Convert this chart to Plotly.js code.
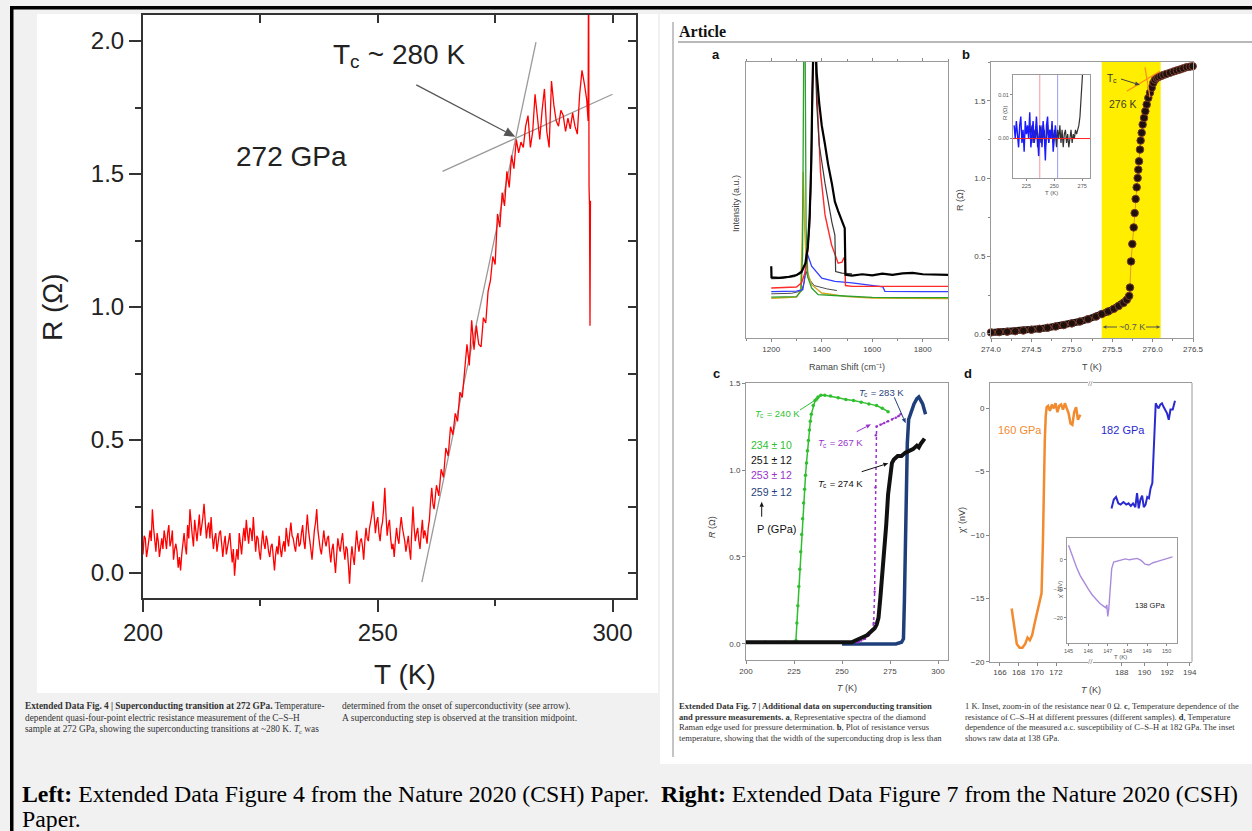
<!DOCTYPE html>
<html><head><meta charset="utf-8">
<script src="https://cdn.plot.ly/plotly-3.0.1.min.js"></script>
<style>html,body{margin:0;padding:0;background:#f1f1f1;}#chart{width:1252px;height:831px;}</style>
</head><body><div id="chart"></div>
<script>
// ---------- Left figure: Extended Data Fig. 4 ----------
const mainT = [
200,200.25,200.5,200.75,201,201.25,201.5,201.75,202,202.25,202.5,202.75,203,203.25,203.5,203.75,204,204.25,204.5,204.75,
205,205.25,205.5,205.75,206,206.25,206.5,206.75,207,207.25,207.5,207.75,208,208.25,208.5,208.75,209,209.25,209.5,209.75,
210,210.25,210.5,210.75,211,211.25,211.5,211.75,212,212.25,212.5,212.75,213,213.25,213.5,213.75,214,214.25,214.5,214.75,
215,215.25,215.5,215.75,216,216.25,216.5,216.75,217,217.25,217.5,217.75,218,218.25,218.5,218.75,219,219.25,219.5,219.75,
220,220.25,220.5,220.75,221,221.25,221.5,221.75,222,222.25,222.5,222.75,223,223.25,223.5,223.75,224,224.25,224.5,224.75,
225,225.25,225.5,225.75,226,226.25,226.5,226.75,227,227.25,227.5,227.75,228,228.25,228.5,228.75,229,229.25,229.5,229.75,
230,230.25,230.5,230.75,231,231.25,231.5,231.75,232,232.25,232.5,232.75,233,233.25,233.5,233.75,234,234.25,234.5,234.75,
235,235.25,235.5,235.75,236,236.25,236.5,236.75,237,237.25,237.5,237.75,238,238.25,238.5,238.75,239,239.25,239.5,239.75,
240,240.25,240.5,240.75,241,241.25,241.5,241.75,242,242.25,242.5,242.75,243,243.25,243.5,243.75,244,244.25,244.5,244.75,
245,245.25,245.5,245.75,246,246.25,246.5,246.75,247,247.25,247.5,247.75,248,248.25,248.5,248.75,249,249.25,249.5,249.75,
250,250.25,250.5,250.75,251,251.25,251.5,251.75,252,252.25,252.5,252.75,253,253.25,253.5,253.75,254,254.25,254.5,254.75,
255,255.25,255.5,255.75,256,256.25,256.5,256.75,257,257.25,257.5,257.75,258,258.25,258.5,258.75,259,259.25,259.5,259.75,
260,260.25,260.5,260.75,261,261.25,261.5,261.75,
262,262.5,263,263.5,264,264.5,265,265.5,266,266.5,267,267.5,268,268.5,269,269.5,
270,270.5,271,271.5,272,272.5,273,273.5,274,274.5,275,275.5,276,276.5,277,277.5,278,278.5,279,279.5,
280,280.5,281,281.5,282,282.5,283,283.5,284,284.5,285,285.5,286,286.5,287,287.5,288,288.5,289,289.5,
290,290.5,291,291.5,292,292.5,293,293.5,294,294.5,294.8,294.9,295,295.1,295.2,295.3];
const mainR = [
0.07,0.14,0.13,0.06,0.09,0.14,0.16,0.12,0.24,0.17,0.11,0.08,0.15,0.12,0.06,0.10,0.13,0.09,0.16,0.13,
0.09,0.15,0.18,0.10,0.12,0.16,0.05,0.09,0.11,0.08,0.02,0.06,0.01,0.07,0.12,0.15,0.10,0.07,0.18,0.13,
0.24,0.18,0.14,0.10,0.20,0.16,0.12,0.17,0.22,0.14,0.17,0.21,0.26,0.18,0.13,0.17,0.19,0.13,0.21,0.14,
0.09,0.13,0.15,0.08,0.11,0.15,0.16,0.10,0.06,0.11,0.14,0.07,0.10,0.13,0.15,0.09,0.04,0.09,-0.01,0.05,
0.09,0.05,0.15,0.11,0.07,0.13,0.17,0.12,0.20,0.15,0.11,0.17,0.16,0.12,0.21,0.14,0.08,0.14,0.13,0.08,
0.05,0.11,0.16,0.11,0.09,0.14,0.12,0.08,0.06,0.10,0.11,0.06,0.01,0.07,0.10,0.07,0.14,0.09,0.06,0.10,
0.12,0.08,0.17,0.13,0.10,0.15,0.19,0.14,0.13,0.10,0.08,0.13,0.15,0.10,0.11,0.15,0.18,0.12,0.09,0.16,
0.22,0.16,0.13,0.09,0.05,0.11,0.16,0.19,0.24,0.16,0.12,0.09,0.07,0.12,0.16,0.12,0.10,0.13,0.14,0.08,
0.04,0.09,0.11,0.05,0.00,0.07,0.13,0.10,0.08,0.12,0.15,0.09,0.05,0.10,0.09,0.03,-0.04,0.05,0.10,0.06,
0.03,0.10,0.16,0.11,0.08,0.12,0.13,0.10,0.05,0.12,0.17,0.13,0.12,0.17,0.20,0.22,0.27,0.19,0.15,0.19,
0.21,0.15,0.12,0.17,0.19,0.24,0.32,0.22,0.14,0.18,0.20,0.13,0.09,0.11,0.06,0.12,0.17,0.13,0.11,0.17,
0.21,0.17,0.15,0.12,0.08,0.12,0.14,0.09,0.05,0.16,0.25,0.17,0.12,0.15,0.17,0.12,0.09,0.15,0.20,0.13,
0.16,0.14,0.11,0.17,0.20,0.27,0.32,0.26,
0.24,0.33,0.29,0.39,0.36,0.47,0.44,0.55,0.52,0.60,0.57,0.68,0.66,0.76,0.86,0.78,
0.95,0.84,0.93,0.86,0.85,0.96,0.94,1.06,1.10,1.19,1.16,1.35,1.30,1.43,1.38,1.51,1.45,1.57,1.52,1.63,
1.58,1.62,1.60,1.68,1.72,1.60,1.66,1.80,1.70,1.63,1.74,1.82,1.66,1.60,1.85,1.76,1.70,1.68,1.74,1.72,
1.66,1.71,1.67,1.73,1.68,1.65,1.80,1.89,1.84,1.78,1.70,2.40,1.45,1.38,0.93,1.40];
const steepT = [259.4, 283.7], steepR = [-0.034, 1.996];
const flatT = [263.8, 300.0], flatR = [1.51, 1.80];
const mainXTicks = [200, 250, 300], mainXMinor = [225, 275];
const mainYTicks = [0, 0.5, 1.0, 1.5, 2.0], mainYMinor = [0.25, 0.75, 1.25, 1.75];
const mainTopTicks = [225, 250, 275, 300];
const mainRightTicks = [0, 0.25, 0.5, 0.75, 1.0, 1.25, 1.5, 1.75, 2.0];
const mainArrowT = [258.2, 279.3], mainArrowR = [1.835, 1.64];

// ---------- Panel a: Raman spectra ----------
const aBlackX = [1200,1201,1230,1270,1300,1320,1335,1345,1352,1358,1363,1368,1374,1380,1390,1400,1413,1425,1440,1452,1465,1478,1491,1494,1520,1560,1600,1640,1680,1720,1760,1800,1840,1880,1900];
const aBlackY = [26,22,21.8,22.2,22.8,24,27,33,44,62,90,110,110,96,85,77,70,63,56,49.4,46,43,39.8,22.9,22.6,23.1,22.7,23.3,22.9,23.4,23.6,23.1,23,22.8,22.9];
const aDarkX = [1200,1240,1290,1320,1340,1352,1360,1366,1372,1380,1390,1413,1440,1452,1455,1480,1520];
const aDarkY = [21.5,21.6,22.2,23.5,28,40,65,110,110,85,70,56,42,37.3,24.1,23.5,23.2];
const aRedX = [1200,1260,1300,1320,1335,1345,1355,1362,1367,1374,1380,1395,1413,1439,1452,1465,1480,1488,1491,1494,1520,1600,1700,1800,1900];
const aRedY = [18.1,18.2,18.5,20,24,32,50,80,110,110,90,60,44.6,33.7,30,27.1,27.5,29,28.9,19,18.7,18.7,18.8,18.7,18.7];
const aBlueX = [1200,1260,1300,1325,1333,1340,1345,1360,1400,1452,1520,1570,1629,1642,1650,1700,1800,1900];
const aBlueY = [16.8,16.9,17,17.5,22,31.3,30,26,21.7,20.5,20,19.3,18.7,18.5,16.9,16.8,16.8,16.8];
const aGreenX = [1200,1260,1300,1318,1324,1329,1334,1338,1345,1360,1386,1450,1500,1600,1700,1800,1900];
const aGreenY = [14.8,14.9,15,17,30,110,110,40,22,18.1,15.7,15.4,15.2,14.7,14.6,14.6,14.6];
const aOrangeX = [1200,1260,1300,1316,1322,1327,1332,1340,1360,1400,1500,1600,1700,1800,1900];
const aOrangeY = [14.4,14.5,14.8,17,35,60.2,40,25,19.3,16.3,15,14.5,14.4,14.3,14.3];
const aGrayX = [1200,1280,1320,1330,1337,1345,1370,1420,1460];
const aGrayY = [16,16.2,17,20,24.5,22,19,17.8,17.2];
const aXTicks = [1200, 1400, 1600, 1800], aXMinor = [1100, 1300, 1500, 1700, 1900];

// ---------- Panel b: R vs T near Tc ----------
const bT = [274.00,274.10,274.20,274.30,274.40,274.50,274.60,274.70,274.80,274.90,275.00,275.10,275.20,275.30,275.37,275.45,275.52,275.58,275.64,275.68,275.71,
  275.720,275.733,275.749,275.766,275.778,275.790,275.803,275.815,275.823,275.832,275.844,275.852,275.865,275.877,275.894,275.910,275.927,275.947,275.968,275.989,
  276.009,276.030,276.050,276.071,276.100,276.133,276.170,276.215,276.260,276.300,276.339,276.380,276.422,276.460,276.496];
const bR = [0.010,0.012,0.015,0.018,0.022,0.027,0.033,0.040,0.048,0.057,0.068,0.080,0.095,0.112,0.128,0.145,0.162,0.180,0.200,0.220,0.245,
  0.299,0.467,0.579,0.686,0.778,0.869,0.944,1.004,1.058,1.112,1.187,1.245,1.295,1.348,1.391,1.434,1.477,1.520,1.553,1.585,
  1.617,1.637,1.648,1.654,1.660,1.667,1.674,1.682,1.690,1.697,1.703,1.710,1.718,1.721,1.724];
const bBand = [275.37, 276.10];
const bTcLine1T = [275.68, 276.09], bTcLine1R = [1.563, 1.692];
const bTcLine2T = [275.906, 275.968], bTcLine2R = [1.716, 1.523];
const bXTicks = [274.0, 274.5, 275.0, 275.5, 276.0, 276.5];
const bYTicks = [0, 0.5, 1.0, 1.5];
// inset of b
const biBlueT = [214,215,216,217,218,219,220,221,222,223,224,225,226,227,228,229,230,231,232,233,234,235,236,237,238,239,240,241,242,243,244,245,246,247,248,249,250,251,252];
const biBlueR = [0.003,0.000,0.004,0.001,-0.002,0.003,0.005,-0.001,0.002,-0.003,0.004,0.001,0.003,0.000,0.006,-0.002,0.002,0.004,-0.001,0.001,0.005,0.000,-0.004,0.003,0.002,-0.002,0.004,0.001,-0.005,0.003,0.005,-0.001,0.002,0.000,0.004,-0.003,0.001,0.003,0.000];
const biBlackT = [229,230,231,232,233,234,235,236,237,238,239,240,241,242,243,244,245,246,247,248,249,250,251,252,253,254,255,256,257,258,259,260,261,262,263,264,265,266,267,268,269,270,271,272,273,274,275,275.6];
const biBlackR = [0.001,0.003,-0.001,0.002,0.000,0.003,-0.002,0.001,0.002,-0.001,0.003,0.000,0.002,-0.002,0.001,0.003,-0.001,0.002,0.000,0.003,-0.001,0.002,0.001,-0.002,0.002,0.000,0.003,-0.001,0.002,-0.002,0.001,0.002,-0.001,0.001,-0.002,0.000,0.002,-0.001,0.001,0.000,0.002,0.001,0.002,0.003,0.005,0.008,0.012,0.016];
const biZeroT = [213, 282], biZeroR = [0, 0];
const biRedVT = [237, 237], biBlueVT = [253, 253], biVR = [-0.009, 0.0145];

// ---------- Panel c: R vs T at several pressures ----------
const cGreenT = [200,210,220,225,226,226.5,227,227.5,228,228.5,229,229.5,230,230.5,231,231.5,232,232.5,233,233.5,234,235,236,237.5,239,241,244,248,252,256,260,264,268,271,274];
const cGreenR = [0.01,0.01,0.01,0.01,0.02,0.12,0.22,0.33,0.43,0.53,0.63,0.72,0.81,0.89,0.97,1.04,1.11,1.17,1.23,1.28,1.32,1.37,1.40,1.42,1.43,1.43,1.425,1.415,1.405,1.40,1.39,1.38,1.37,1.355,1.335];
const cNavyT = [250,260,270,278,281,282,282.5,283,283.5,284,284.7,286,287.5,289,290,291,292,293,293.5];
const cNavyR = [0.0,0.0,0.0,0.0,0.01,0.03,0.25,0.6,0.95,1.15,1.29,1.33,1.38,1.41,1.42,1.40,1.38,1.34,1.32];
const cPurpleT = [258,260,262,264,265.5,266.5,267,267.2,267.4,267.6,268,270,272,274,276,278,279.5,280.5];
const cPurpleR = [0.01,0.02,0.03,0.05,0.08,0.12,0.3,0.6,0.9,1.2,1.25,1.26,1.27,1.28,1.29,1.30,1.31,1.32];
const cBlackT = [200,205,210,215,220,225,230,235,240,245,250,255,257,259,261,263,265,267,268,269,270,271,272,273,274,275,276,277,279,281,283,285,287,289,290,291,292,293];
const cBlackR = [0.01,0.01,0.01,0.01,0.01,0.01,0.01,0.01,0.01,0.01,0.01,0.01,0.02,0.03,0.04,0.05,0.07,0.09,0.11,0.15,0.27,0.40,0.55,0.68,0.86,0.98,1.04,1.06,1.08,1.08,1.10,1.11,1.12,1.14,1.13,1.15,1.17,1.18];
const cXTicks = [200, 225, 250, 275, 300], cYTicks = [0, 0.5, 1.0, 1.5];
const cPressures = ['234 ± 10', '251 ± 12', '253 ± 12', '259 ± 12'];
const cTcLabels = ['= 240 K', '= 283 K', '= 267 K', '= 274 K'];

// ---------- Panel d: susceptibility ----------
const dOrangeT = [167.25,167.5,167.8,168.1,168.4,168.7,168.95,169.2,169.45,169.7,169.95,170.2,170.45,170.6,170.7,170.8,170.9,171.0,171.15,171.35,171.55,171.75,171.95,172.15,172.35,172.55,172.75,172.95,173.15,173.35,173.55,173.75,173.95,174.15,174.35,174.6];
const dOrangeX = [-15.8,-17.2,-18.6,-18.9,-18.9,-18.6,-18.1,-18.3,-17.9,-17.0,-16.2,-15.4,-14.6,-10.5,-6.0,-2.5,-0.6,0.1,0.2,-0.2,0.3,0.0,0.4,-0.3,0.2,0.3,-0.1,0.4,0.0,-0.4,-1.2,-1.3,-0.3,0.1,-0.9,-0.5];
const dBlueT = [187.1,187.3,187.5,187.7,187.9,188.15,188.4,188.6,188.8,189.0,189.2,189.35,189.5,189.65,189.8,189.95,190.1,190.25,190.4,190.55,190.7,190.8,190.9,191.0,191.1,191.25,191.4,191.55,191.7,191.85,192.0,192.15,192.3,192.5,192.7];
const dBlueX = [-7.9,-7.2,-7.0,-7.5,-7.6,-7.4,-7.6,-7.5,-7.7,-7.5,-7.8,-6.7,-7.9,-7.2,-6.9,-7.8,-7.6,-7.0,-7.1,-6.3,-5.9,-3.5,-1.4,0.4,0.2,0.0,0.3,0.4,0.1,-0.1,-0.4,-0.9,-0.1,-0.1,0.6];
const diT = [145.0,145.2,145.4,145.6,145.8,146.0,146.2,146.4,146.6,146.8,146.9,146.95,147.0,147.05,147.1,147.2,147.3,147.5,147.7,147.9,148.1,148.3,148.5,148.7,148.9,149.1,149.3,149.5,149.7,149.9,150.1,150.3];
const diX = [5,1,-2.5,-5.5,-8,-10,-12,-13.5,-15,-16,-16.5,-15.5,-19.5,-17,-12,-3,-0.8,-0.5,0,0.3,0,0.2,0.5,-0.2,-1.5,-1.8,-1.0,-0.6,-0.2,0.2,0.8,1.0];
const dYTicks = [0, -5, -10, -15, -20];
const dXTicksL = [166, 168, 170, 172], dXTicksR = [188, 190, 192, 194];
const diXTicks = [145, 146, 147, 148, 149, 150], diYTicks = [0, -10, -20];

// ---------- helpers ----------
const W = 1252, H = 831;
const dx = p => p / W, dy = p => 1 - p / H;
const FONT = 'Arial, "Liberation Sans", sans-serif';
const SERIF = '"Liberation Serif", "Times New Roman", serif';
function ax(o){ return Object.assign({showgrid:false, zeroline:false, fixedrange:true, automargin:false}, o); }
function txt(px, py, text, size, color, o){
  return Object.assign({xref:'paper', yref:'paper', x:dx(px), y:dy(py), text:text, showarrow:false, borderpad:0, borderwidth:0,
    xanchor:'center', yanchor:'middle', font:{family:FONT, size:size, color:color}}, o || {});
}
// text runs with a lowered small "subscript" part, laid out with measured widths
const cv = document.createElement('canvas').getContext('2d');
function tw(s, size, family, it, bd){ cv.font = (it ? 'italic ' : '') + (bd ? 'bold ' : '') + size + 'px ' + family; return cv.measureText(s).width; }
function runs(x, y, parts, anchor, family, color){
  const ws = parts.map(p => tw(p.t, p.size, family, p.i, p.b));
  const total = ws.reduce((a, b) => a + b, 0);
  let cx = anchor === 'center' ? x - total / 2 : (anchor === 'right' ? x - total : x);
  return parts.map((p, k) => {
    const a = {xref:'paper', yref:'paper', x:dx(cx), y:dy(y + (p.dy || 0)), xanchor:'left', yanchor:'middle', showarrow:false,
      borderpad:0, borderwidth:0, text:(p.i ? '<i>' + p.t + '</i>' : (p.b ? '<b>' + p.t + '</b>' : p.t)),
      font:{family:family, size:p.size, color:color}};
    cx += ws[k];
    return a;
  });
}
function rect(x0,y0,x1,y1,fill){ return {type:'rect', xref:'paper', yref:'paper', x0:dx(x0), x1:dx(x1), y0:dy(y1), y1:dy(y0), fillcolor:fill, line:{width:0}, layer:'below'}; }
function pline(x0,y0,x1,y1,color,w,layer){ return {type:'line', xref:'paper', yref:'paper', x0:dx(x0), x1:dx(x1), y0:dy(y0), y1:dy(y1), line:{color:color, width:w}, layer:layer || 'below'}; }
function arrowPx(sx, sy, tx, ty, color, w, head){
  const a = Math.atan2(ty - sy, tx - sx), h = head || 6, hw = h * 0.42;
  const bx = tx - h * Math.cos(a), by = ty - h * Math.sin(a);
  const nx = -Math.sin(a), ny = Math.cos(a);
  return [pline(sx, sy, bx, by, color, w, 'above'),
    {type:'path', xref:'paper', yref:'paper', layer:'above', fillcolor:color, line:{width:0},
     path:'M ' + dx(tx) + ' ' + dy(ty) + ' L ' + dx(bx + hw*nx) + ' ' + dy(by + hw*ny) + ' L ' + dx(bx - hw*nx) + ' ' + dy(by - hw*ny) + ' Z'}];
}
const mX = T => 143 + (T - 200) * (493 / 105);
const mY = R => 598 - (R + 0.094) * (583 / 2.192);

const smallTick = {size:8, color:'#444', family:FONT};
function panelX(o){ return ax(Object.assign({showline:true, linecolor:'#9a9a9a', linewidth:1, mirror:true, ticks:'outside', ticklen:3, tickcolor:'#888', tickfont:smallTick}, o)); }
function panelY(o){ return ax(Object.assign({showline:true, linecolor:'#9a9a9a', linewidth:1, mirror:true, ticks:'outside', ticklen:3, tickcolor:'#888', tickfont:smallTick}, o)); }

const L = (x, y, xa, ya, color, width, extra) => Object.assign({x:x, y:y, xaxis:xa, yaxis:ya, mode:'lines', line:{color:color, width:width}, hoverinfo:'skip', showlegend:false}, extra || {});

const data = [
  L(steepT, steepR, 'x', 'y', '#9a9a9a', 1.3),
  L(flatT, flatR, 'x', 'y', '#9a9a9a', 1.3),
  L(mainT, mainR, 'x', 'y', '#ff0000', 1.3),
  L(mainT, mainR, 'x2', 'y2', '#ff0000', 1, {opacity:0}),
  L(aGrayX, aGrayY, 'x3', 'y3', '#4d4d4d', 1),
  L(aOrangeX, aOrangeY, 'x3', 'y3', '#d8a41c', 1.3),
  L(aGreenX, aGreenY, 'x3', 'y3', '#2ca02c', 1.3),
  L(aBlueX, aBlueY, 'x3', 'y3', '#3340ff', 1.3),
  L(aRedX, aRedY, 'x3', 'y3', '#ff2a2a', 1.4),
  L(aDarkX, aDarkY, 'x3', 'y3', '#3a3a3a', 1.2),
  L(aBlackX, aBlackY, 'x3', 'y3', '#000000', 2.2),
  L(bT.slice(0, 21), bR.slice(0, 21), 'x4', 'y4', '#111111', 7),
  L(bT, bR, 'x4', 'y4', '#e39a2d', 1),
  {x:bT, y:bR, xaxis:'x4', yaxis:'y4', mode:'markers', cliponaxis:false,
   marker:{size:7.5, color:'#1e110d', line:{color:'#7a3b2e', width:1}}, hoverinfo:'skip', showlegend:false},
  L(bTcLine1T, bTcLine1R, 'x4', 'y4', '#ff8c1a', 1.2),
  L(bTcLine2T, bTcLine2R, 'x4', 'y4', '#ff8c1a', 1.2),
  L(biRedVT, biVR, 'x5', 'y5', '#f08080', 0.8),
  L(biBlueVT, biVR, 'x5', 'y5', '#8080f0', 0.8),
  L(biBlackT, biBlackR, 'x5', 'y5', '#333333', 1.2),
  L(biBlueT, biBlueR, 'x5', 'y5', '#1a1aff', 1.4),
  L(biZeroT, biZeroR, 'x5', 'y5', '#ff2020', 1),
  L(cGreenT, cGreenR, 'x6', 'y6', '#2fbf2f', 1.5, {mode:'lines+markers', marker:{size:3.5, color:'#2fbf2f'}}),
  L(cNavyT, cNavyR, 'x6', 'y6', '#1f3f7a', 3.5),
  L(cPurpleT, cPurpleR, 'x6', 'y6', '#9932cc', 1.5, {mode:'lines+markers', line:{color:'#9932cc', width:1.5, dash:'dot'}, marker:{size:2.5, color:'#9932cc'}}),
  L(cBlackT, cBlackR, 'x6', 'y6', '#111111', 4),
  L(dOrangeT, dOrangeX, 'x7', 'y7', '#f28a2e', 2.5),
  L(dBlueT, dBlueX, 'x8', 'y7', '#2a2ad0', 2),
  L(diT, diX, 'x9', 'y9', '#a98bdc', 1.4)
];

const mainAxis = {showline:true, linecolor:'#333', linewidth:2, tickcolor:'#333', tickwidth:2, tickfont:{family:FONT, size:24, color:'#222'}};
const capFont = s => ({family:SERIF, size:s, color:'#333'});

const shapes = [
  rect(10, 6, 1252, 9.5, '#000000'),
  rect(10, 6, 13.5, 831, '#000000'),
  rect(37, 14, 658, 693, '#ffffff'),
  rect(660, 14, 1252, 764, '#ffffff'),
  pline(673, 22, 673, 757, '#b0b0b0', 1.5),
  pline(678, 42, 1252, 42, '#a0a0a0', 1.5),
  {type:'rect', xref:'x4', yref:'y4 domain', x0:bBand[0], x1:bBand[1], y0:0, y1:1, fillcolor:'#ffee00', line:{width:0}, layer:'below'},
  pline(1192, 383, 1192, 661.7, '#9a9a9a', 1)
].concat(
  arrowPx(mX(mainArrowT[0]), mY(mainArrowR[0]), mX(mainArrowT[1]), mY(mainArrowR[1]), '#555555', 1.3, 11),
  arrowPx(1121, 79, 1140, 85, '#444444', 1, 5),
  arrowPx(1117, 327, 1102.5, 327, '#555555', 1, 4),
  arrowPx(1146, 327, 1160.5, 327, '#555555', 1, 4),
  arrowPx(800, 410, 820, 397, '#2fbf2f', 1, 5),
  arrowPx(894.3, 397.3, 905.7, 423.3, '#1f3f7a', 1, 5),
  arrowPx(856.7, 431.7, 871, 424.3, '#9932cc', 1, 5),
  arrowPx(861.7, 471.7, 888.3, 463.3, '#111111', 1, 5),
  arrowPx(761.7, 516.7, 761.7, 501.7, '#111111', 1, 5)
);

const tcPart = (size, sub, rest, dsub) => [{t:'T', i:true, size:size}, {t:'c', size:sub, dy:dsub}, {t:'\u00a0' + rest, size:size}];

const annotations = [
  txt(236, 156, '272 GPa', 28, '#222', {xanchor:'left'}),
  txt(52, 307, 'R (Ω)', 28, '#222', {textangle:-90}),
  txt(405, 674, 'T (K)', 28, '#222'),
  txt(25, 706, '<b>Extended Data Fig. 4 | Superconducting transition at 272 GPa.</b> Temperature-', 9.3, '#333', {xanchor:'left', font:capFont(9.3)}),
  txt(25, 717.5, 'dependent quasi-four-point electric resistance measurement of the C–S–H', 9.3, '#333', {xanchor:'left', font:capFont(9.3)}),
  txt(342, 706, 'determined from the onset of superconductivity (see arrow).', 9.5, '#333', {xanchor:'left', font:capFont(9.5)}),
  txt(342, 717.5, 'A superconducting step is observed at the transition midpoint.', 9.5, '#333', {xanchor:'left', font:capFont(9.5)}),
  txt(679, 31, '<b>Article</b>', 16, '#111', {xanchor:'left', font:{family:SERIF, size:16, color:'#111'}}),
  txt(716, 54, '<b>a</b>', 13, '#111'),
  txt(966, 54, '<b>b</b>', 13, '#111'),
  txt(716, 373, '<b>c</b>', 13, '#111'),
  txt(968, 373, '<b>d</b>', 13, '#111'),
  txt(736, 204, 'Intensity (a.u.)', 9, '#444', {textangle:-90}),
  txt(847, 367, 'Raman Shift (cm⁻¹)', 9, '#444'),
  txt(960, 200, 'R (Ω)', 9, '#444', {textangle:-90}),
  txt(1092, 367, 'T (K)', 9, '#444'),
  txt(1122, 104, '276 K', 10.5, '#3d3d1f'),
  txt(1131.5, 327, '~0.7 K', 9, '#555'),
  txt(1005, 113, 'R (Ω)', 6, '#555', {textangle:-90}),
  txt(1051, 193, 'T (K)', 6, '#555'),
  txt(712, 527, '<i>R</i> (Ω)', 9, '#444', {textangle:-90}),
  txt(847, 688, '<i>T</i> (K)', 9, '#444'),
  txt(771, 445, cPressures[0], 10.5, '#2fbf2f'),
  txt(771, 459.5, cPressures[1], 10.5, '#111'),
  txt(771, 475, cPressures[2], 10.5, '#9932cc'),
  txt(771, 491.5, cPressures[3], 10.5, '#1f3f7a'),
  txt(777, 528.5, 'P (GPa)', 11, '#111'),
  txt(962, 520, 'χ\' (nV)', 9, '#444', {textangle:-90}),
  txt(1091, 690, '<i>T</i> (K)', 9, '#444'),
  txt(1020, 430, '160 GPa', 11, '#f28a2e'),
  txt(1122.5, 430, '182 GPa', 11, '#2a2ad0'),
  txt(1150, 605, '138 GPa', 7.5, '#222'),
  txt(1060, 590, 'χ\' (nV)', 6, '#555', {textangle:-90}),
  txt(1120, 657, 'T (K)', 6, '#555'),
  txt(1090, 383, '//', 8, '#888', {bgcolor:'#ffffff'}),
  txt(1090, 661.7, '//', 8, '#888', {bgcolor:'#ffffff'}),
  txt(679, 706, '<b>Extended Data Fig. 7 | Additional data on superconducting transition</b>', 8.6, '#333', {xanchor:'left', font:capFont(8.6)}),
  txt(679, 716.5, '<b>and pressure measurements.</b> <b>a</b>, Representative spectra of the diamond', 8.6, '#333', {xanchor:'left', font:capFont(8.6)}),
  txt(679, 727, 'Raman edge used for pressure determination. <b>b</b>, Plot of resistance versus', 8.6, '#333', {xanchor:'left', font:capFont(8.6)}),
  txt(679, 737.5, 'temperature, showing that the width of the superconducting drop is less than', 8.6, '#333', {xanchor:'left', font:capFont(8.6)}),
  txt(965, 706, '1 K. Inset, zoom-in of the resistance near 0 Ω. <b>c</b>, Temperature dependence of the', 8.5, '#333', {xanchor:'left', font:capFont(8.5)}),
  txt(965, 716.5, 'resistance of C–S–H at different pressures (different samples). <b>d</b>, Temperature', 8.5, '#333', {xanchor:'left', font:capFont(8.5)}),
  txt(965, 727, 'dependence of the measured a.c. susceptibility of C–S–H at 182 GPa. The inset', 8.5, '#333', {xanchor:'left', font:capFont(8.5)}),
  txt(965, 737.5, 'shows raw data at 138 GPa.', 8.5, '#333', {xanchor:'left', font:capFont(8.5)}),
  txt(22, 794, '<b>Left:</b> Extended Data Figure 4 from the Nature 2020 (CSH) Paper.\u00a0 <b>Right:</b> Extended Data Figure 7 from the Nature 2020 (CSH)', 23.8, '#000', {xanchor:'left', font:{family:SERIF, size:23.8, color:'#000'}}),
  txt(22, 819, 'Paper.', 23.8, '#000', {xanchor:'left', font:{family:SERIF, size:23.8, color:'#000'}})
].concat(
  runs(333, 54, [{t:'T', size:28}, {t:'c', size:19, dy:8}, {t:'\u00a0~ 280 K', size:28}], 'left', FONT, '#222'),
  runs(1112, 78, [{t:'T', size:10}, {t:'c', size:7, dy:2.5}], 'center', FONT, '#333'),
  runs(777, 413, tcPart(9.5, 6.5, cTcLabels[0], 2.5), 'center', FONT, '#2fbf2f'),
  runs(881, 392, tcPart(9.5, 6.5, cTcLabels[1], 2.5), 'center', FONT, '#1f3f7a'),
  runs(840, 443, tcPart(9.5, 6.5, cTcLabels[2], 2.5), 'center', FONT, '#9932cc'),
  runs(840, 483, tcPart(9.5, 6.5, cTcLabels[3], 2.5), 'center', FONT, '#111'),
  runs(25, 729, [{t:'sample at 272 GPa, showing the superconducting transitions at ~280 K.\u00a0', size:9.3}, {t:'T', i:true, size:9.3}, {t:'c', size:6.5, dy:2}, {t:'\u00a0was', size:9.3}], 'left', SERIF, '#333')
);

const layout = {
  width: W, height: H, autosize:false, margin:{l:0, r:0, t:0, b:0},
  paper_bgcolor:'#f1f1f1', plot_bgcolor:'rgba(0,0,0,0)', showlegend:false,
  font:{family:FONT, color:'#333'},
  xaxis: ax(Object.assign({}, mainAxis, {domain:[dx(143), dx(636)], anchor:'y', range:[200, 305], tickmode:'array', tickvals:mainXTicks,
    ticks:'outside', ticklen:12, minor:{tickvals:mainXMinor, ticks:'outside', ticklen:6, tickwidth:2, tickcolor:'#333'}})),
  yaxis: ax(Object.assign({}, mainAxis, {domain:[dy(598), dy(15)], anchor:'x', range:[-0.094, 2.098], tickmode:'array', tickvals:mainYTicks, tickformat:'.1f',
    ticks:'outside', ticklen:12, minor:{tickvals:mainYMinor, ticks:'outside', ticklen:6, tickwidth:2, tickcolor:'#333'}})),
  xaxis2: ax({overlaying:'x', anchor:'y', side:'top', range:[200, 305], tickmode:'array', tickvals:mainTopTicks, ticks:'inside', ticklen:8, tickwidth:2, tickcolor:'#333',
    showticklabels:false, showline:true, linecolor:'#333', linewidth:2}),
  yaxis2: ax({overlaying:'y', anchor:'x', side:'right', range:[-0.094, 2.098], tickmode:'array', tickvals:mainRightTicks, ticks:'inside', ticklen:8, tickwidth:2, tickcolor:'#333',
    showticklabels:false, showline:true, linecolor:'#333', linewidth:2}),
  xaxis3: panelX({domain:[dx(746), dx(948)], anchor:'y3', range:[1100, 1900], tickmode:'array', tickvals:aXTicks, mirror:'ticks',
    minor:{tickvals:aXMinor, ticks:'outside', ticklen:2, tickcolor:'#888'}}),
  yaxis3: panelY({domain:[dy(338), dy(62)], anchor:'x3', range:[0, 100], ticks:'', showticklabels:false}),
  xaxis4: panelX({domain:[dx(991), dx(1193)], anchor:'y4', range:[274, 276.5], tickmode:'array', tickvals:bXTicks, tickformat:'.1f',
    minor:{dtick:0.25, tick0:274, ticks:'outside', ticklen:2, tickcolor:'#888'}}),
  yaxis4: panelY({domain:[dy(338), dy(62)], anchor:'x4', range:[-0.026, 1.751], tickmode:'array', tickvals:bYTicks, tickformat:'.1f',
    minor:{dtick:0.25, tick0:0, ticks:'outside', ticklen:2, tickcolor:'#888'}}),
  xaxis5: panelX({domain:[dx(1013), dx(1090)], anchor:'y5', range:[213, 282], tickmode:'array', tickvals:[225, 250, 275], ticklen:2, tickfont:{size:5.5, color:'#555', family:FONT}}),
  yaxis5: panelY({domain:[dy(178), dy(75)], anchor:'x5', range:[-0.009, 0.0145], tickmode:'array', tickvals:[0, 0.01], ticktext:['0.00', '0.01'], ticklen:2, tickfont:{size:5.5, color:'#555', family:FONT}}),
  xaxis6: panelX({domain:[dx(746), dx(948)], anchor:'y6', range:[200, 305.2], tickmode:'array', tickvals:cXTicks}),
  yaxis6: panelY({domain:[dy(660), dy(383)], anchor:'x6', range:[-0.092, 1.5], tickmode:'array', tickvals:cYTicks, tickformat:'.1f'}),
  xaxis7: panelX({domain:[dx(990), dx(1090)], anchor:'y7', range:[164.93, 175.64], tickmode:'array', tickvals:dXTicksL}),
  xaxis8: panelX({domain:[dx(1090), dx(1192)], anchor:'y7', range:[185.2, 194.2], tickmode:'array', tickvals:dXTicksR}),
  yaxis7: panelY({domain:[dy(661.7), dy(383)], anchor:'x7', range:[-20, 2], tickmode:'array', tickvals:dYTicks, mirror:false}),
  xaxis9: panelX({domain:[dx(1067), dx(1177)], anchor:'y9', range:[144.92, 150.53], tickmode:'array', tickvals:diXTicks, ticklen:2, tickfont:{size:5.5, color:'#555', family:FONT}}),
  yaxis9: panelY({domain:[dy(643), dy(538)], anchor:'x9', range:[-28.6, 7.5], tickmode:'array', tickvals:diYTicks, ticklen:2, tickfont:{size:5.5, color:'#555', family:FONT}}),
  shapes: shapes,
  annotations: annotations
};

Plotly.newPlot('chart', data, layout, {displayModeBar:false, staticPlot:true});
</script>
</body></html>
